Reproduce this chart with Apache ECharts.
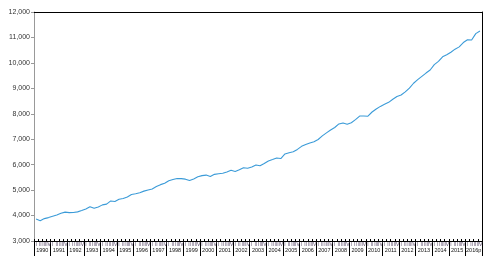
<!DOCTYPE html>
<html><head><meta charset="utf-8">
<script src="https://cdn.jsdelivr.net/npm/echarts@6/dist/echarts.min.js"></script>
<style>html,body{margin:0;padding:0;background:#fff}#c{width:491px;height:264px}</style>
</head><body><div id="c"></div>
<script>
const years = ['1990','1991','1992','1993','1994','1995','1996','1997','1998','1999','2000','2001','2002','2003','2004','2005','2006','2007','2008','2009','2010','2011','2012','2013','2014','2015','2016p'];
const quarterNames = ['I','II','III','IV'];
const values = [
3865,3800,3880,3920, 3970,4020,4090,4135, 4115,4120,4145,4195, 4260,4350,4285,4340,
4420,4450,4575,4550, 4640,4670,4730,4830, 4855,4900,4960,5005, 5045,5140,5215,5270,
5370,5420,5455,5450, 5430,5375,5440,5525, 5570,5590,5535,5620, 5645,5660,5715,5780,
5735,5800,5880,5860, 5905,5990,5955,6045, 6145,6200,6260,6240, 6420,6470,6510,6600,
6720,6790,6850,6900, 6990,7130,7250,7360, 7460,7600,7640,7590, 7650,7770,7910,7910,
7905,8070,8190,8290, 8370,8450,8570,8680, 8740,8860,9010,9200, 9340,9470,9600,9720,
9930,10060,10240,10320, 10420,10540,10630,10800, 10910,10900,11150,11250
];
const yTicks = [3000,4000,5000,6000,7000,8000,9000,10000,11000,12000];

const quarters = [];
years.forEach(y => quarterNames.forEach(q => quarters.push(y + ' ' + q)));

const chart = echarts.init(document.getElementById('c'), null, {renderer:'canvas'});
chart.setOption({
  animation:false,
  grid:{left:34,right:9,top:12,bottom:23,containLabel:false},
  xAxis:[
    {type:'category',data:quarters,position:'bottom',boundaryGap:true,
     axisLine:{show:true,lineStyle:{color:'#000',width:1}},
     axisTick:{show:true,inside:true,length:2,interval:0,lineStyle:{color:'#000'}},
     axisLabel:{show:true,interval:0,margin:1,fontSize:5,color:'#5a4a6a',fontFamily:'Liberation Sans',
       formatter:v=>v.split(' ')[1]},
     splitLine:{show:false}},
    {type:'category',data:years,position:'bottom',boundaryGap:true,
     axisLine:{show:false},
     axisTick:{show:true,length:15,interval:0,lineStyle:{color:'#000'}},
     axisLabel:{show:true,interval:0,margin:6,fontSize:5.5,color:'#111',fontFamily:'Liberation Sans'},
     splitLine:{show:false}},
    {type:'category',data:quarters,position:'top',
     axisLine:{show:true,lineStyle:{color:'#000',width:1}},
     axisTick:{show:false},axisLabel:{show:false},splitLine:{show:false}}
  ],
  yAxis:[
    {type:'value',min:3000,max:12000,interval:1000,position:'left',
     axisLine:{show:true,lineStyle:{color:'#999'}},
     axisTick:{show:true,length:3,lineStyle:{color:'#999'}},
     axisLabel:{margin:4,fontSize:7,color:'#333',fontFamily:'Liberation Sans',
       formatter:v=>yTicks.includes(v)?v.toLocaleString('en-US'):''},
     splitLine:{show:false}},
    {type:'value',min:3000,max:12000,interval:1000,position:'right',
     axisLine:{show:true,lineStyle:{color:'#000'}},
     axisTick:{show:false},axisLabel:{show:false},splitLine:{show:false}}
  ],
  series:[{type:'line',data:values,xAxisIndex:0,yAxisIndex:0,showSymbol:false,
    lineStyle:{color:'#3b9bd8',width:1.1},itemStyle:{color:'#3b9bd8'}}]
});
</script></body></html>
